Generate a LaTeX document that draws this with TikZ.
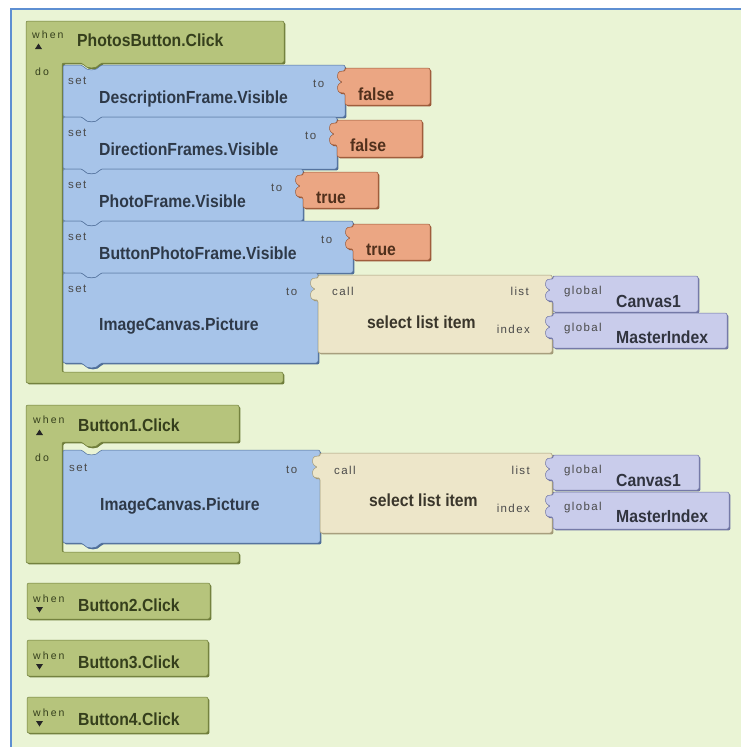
\documentclass[tikz,border=0pt]{standalone}
\usepackage{fontspec}
\setmainfont{Liberation Sans}
\newfontfamily\namefont[FakeStretch=0.9]{Liberation Sans}
\newfontfamily\lblfont[LetterSpace=12]{Liberation Sans}
\newfontfamily\whenfont[LetterSpace=20]{Liberation Sans}
\usetikzlibrary{shadows}

\definecolor{bgc}{HTML}{EAF4D5}
\definecolor{framec}{HTML}{5E8FD2}
\definecolor{evfill}{HTML}{B6C47C}
\definecolor{evedge}{HTML}{6F7D3A}
\definecolor{evtext}{HTML}{353F1C}
\definecolor{setfill}{HTML}{A7C4E9}
\definecolor{setedge}{HTML}{4F6E99}
\definecolor{settext}{HTML}{2E3948}
\definecolor{valfill}{HTML}{EBA683}
\definecolor{valedge}{HTML}{9A5837}
\definecolor{valtext}{HTML}{50301C}
\definecolor{callfill}{HTML}{EDE6C9}
\definecolor{calledge}{HTML}{A39A78}
\definecolor{calltext}{HTML}{3A362B}
\definecolor{glbfill}{HTML}{C9CCEB}
\definecolor{glbedge}{HTML}{6E73A3}
\definecolor{glbtext}{HTML}{31343F}
\definecolor{lbl}{HTML}{4A4A4A}

\tikzset{
  blk/.style 2 args={fill=#1, draw=#2, line width=0.5pt, rounded corners=2pt,
    drop shadow={shadow xshift=1.4pt, shadow yshift=-1.4pt, fill=#2, opacity=1}},
  evblk/.style={blk={evfill}{evedge}},
  setblkstyle/.style={blk={setfill}{setedge}},
  valblkstyle/.style={blk={valfill}{valedge}},
  callblkstyle/.style={blk={callfill}{calledge}},
  glbblkstyle/.style={blk={glbfill}{glbedge}},
  nm/.style={inner sep=0pt, anchor=base west, font=\namefont\bfseries\fontsize{17.5}{18}\selectfont},
  lb/.style={inner sep=0pt, anchor=base west, font=\lblfont\fontsize{11.5}{12}\selectfont, text=lbl},
  lbr/.style={lb, anchor=base east},
  wh/.style={inner sep=0pt, anchor=base west, font=\whenfont\fontsize{10.5}{11}\selectfont, text=evtext},
  tri/.style={fill=black!85},
}

% event block: left, top, right, header bottom, bar top, bar right
\newcommand\evblock[6]{%
  \path[evblk] (#1,#2) -- (#3,#2) -- (#3,#4) -- (100,#4)
    .. controls (97,{#4+6}) and (86,{#4+6}) .. (83,#4) -- (62,#4) -- (62,#5)
    -- (#6,#5) -- (#6,{#5+11}) -- (#1,{#5+11}) -- cycle;}
% statement block: top, right, bottom
\newcommand\setblk[3]{%
  \path[setblkstyle] (63,#1) -- (83,#1) .. controls (86,{#1+6}) and (97,{#1+6}) .. (100,#1)
    -- (#2,#1) -- (#2,#3) -- (100,#3) .. controls (97,{#3+6}) and (86,{#3+6}) .. (83,#3)
    -- (63,#3) -- cycle;}
% value block with plug: style, left, top, right, bottom
\newcommand\valblk[5]{%
  \path[#1] (#2,{#3+3}) -- (#2,#3) -- (#4,#3) -- (#4,#5) -- (#2,#5) -- (#2,{#3+25})
    -- ({#2-3},{#3+25}) .. controls ({#2-8},{#3+24}) and ({#2-8},{#3+18}) .. ({#2-5},{#3+15})
    .. controls ({#2-3.5},{#3+14}) .. ({#2-5},{#3+13})
    .. controls ({#2-8},{#3+10}) and ({#2-8},{#3+4}) .. ({#2-3},{#3+3}) -- cycle;}
% collapsed event block: left, top, right, bottom
\newcommand\collblk[4]{\path[evblk] (#1,#2) rectangle (#3,#4);}

\begin{document}
\begin{tikzpicture}[x=1pt,y=-1pt]
\useasboundingbox (0,0) rectangle (741,747);
\fill[white] (0,0) rectangle (741,747);
\fill[bgc] (10,8) rectangle (741,747);
\draw[framec, line width=2pt] (10.5,747) -- (10.5,8.5) -- (741,8.5);

% ---- when PhotosButton.Click ----
\evblock{26}{21}{284}{63}{372}{283}
\node[wh] (w1) at (32,38) {when};
\fill[tri] (35,49) -- (42,49) -- (38.5,43.5) -- cycle;
\node[nm, text=evtext] (e1) at (77,46) {PhotosButton.Click};
\node[wh] (d1) at (35,75) {do};

\setblk{65}{345}{117}
\node[lb] (s1) at (68,84) {set};
\node[nm, text=settext] (n1) at (99,103) {DescriptionFrame.Visible};
\node[lb] (t1) at (313,87) {to};
\valblk{valblkstyle}{345}{68}{430}{105}
\node[nm, text=valtext] (v1) at (358,100) {false};

\setblk{117}{337}{169}
\node[lb] (s2) at (68,136) {set};
\node[nm, text=settext] (n2) at (99,155) {DirectionFrames.Visible};
\node[lb] (t2) at (305,139) {to};
\valblk{valblkstyle}{337}{120}{422}{157}
\node[nm, text=valtext] (v2) at (350,151) {false};

\setblk{169}{303}{221}
\node[lb] (s3) at (68,188) {set};
\node[nm, text=settext] (n3) at (99,207) {PhotoFrame.Visible};
\node[lb] (t3) at (271,191) {to};
\valblk{valblkstyle}{303}{172}{378}{208}
\node[nm, text=valtext] (v3) at (316,203) {true};

\setblk{221}{353}{273}
\node[lb] (s4) at (68,240) {set};
\node[nm, text=settext] (n4) at (99,259) {ButtonPhotoFrame.Visible};
\node[lb] (t4) at (321,243) {to};
\valblk{valblkstyle}{353}{224}{430}{260}
\node[nm, text=valtext] (v4) at (366,255) {true};

\setblk{273}{318}{363}
\node[lb] (s5) at (68,292) {set};
\node[nm, text=settext] (n5) at (99,330) {ImageCanvas.Picture};
\node[lb] (t5) at (286,295) {to};
\valblk{callblkstyle}{318}{275}{552}{353}
\node[lb] (c1) at (332,295) {call};
\node[nm, text=calltext] (sl1) at (367,328) {select list item};
\node[lbr] (l1) at (529,295) {list};
\node[lbr] (i1) at (530,333) {index};
\valblk{glbblkstyle}{553}{276}{698}{312}
\node[lb] (g1) at (564,294) {global};
\node[nm, text=glbtext] (cv1) at (616,307) {Canvas1};
\valblk{glbblkstyle}{553}{313}{727}{348}
\node[lb] (g2) at (564,331) {global};
\node[nm, text=glbtext] (mi1) at (616,343) {MasterIndex};

% ---- when Button1.Click ----
\evblock{26}{405}{239}{442}{552}{239}
\node[wh] (w2) at (33,423) {when};
\fill[tri] (36,435) -- (43,435) -- (39.5,429.5) -- cycle;
\node[nm, text=evtext] (e2) at (78,431) {Button1.Click};
\node[wh] (d2) at (35,461) {do};

\setblk{450}{320}{543}
\node[lb] (s6) at (69,471) {set};
\node[nm, text=settext] (n6) at (100,510) {ImageCanvas.Picture};
\node[lb] (t6) at (286,473) {to};
\valblk{callblkstyle}{320}{453}{552}{533}
\node[lb] (c2) at (334,474) {call};
\node[nm, text=calltext] (sl2) at (369,506) {select list item};
\node[lbr] (l2) at (530,474) {list};
\node[lbr] (i2) at (530,512) {index};
\valblk{glbblkstyle}{553}{455}{699}{490}
\node[lb] (g3) at (564,473) {global};
\node[nm, text=glbtext] (cv2) at (616,486) {Canvas1};
\valblk{glbblkstyle}{553}{492}{729}{529}
\node[lb] (g4) at (564,510) {global};
\node[nm, text=glbtext] (mi2) at (616,522) {MasterIndex};

% ---- collapsed handlers ----
\collblk{27}{583}{210}{619}
\node[wh] (w3) at (33,602) {when};
\fill[tri] (36,607) -- (43,607) -- (39.5,612.5) -- cycle;
\node[nm, text=evtext] (e3) at (78,611) {Button2.Click};

\collblk{27}{640}{208}{676}
\node[wh] (w4) at (33,659) {when};
\fill[tri] (36,664) -- (43,664) -- (39.5,669.5) -- cycle;
\node[nm, text=evtext] (e4) at (78,668) {Button3.Click};

\collblk{27}{697}{208}{733}
\node[wh] (w5) at (33,716) {when};
\fill[tri] (36,721) -- (43,721) -- (39.5,726.5) -- cycle;
\node[nm, text=evtext] (e5) at (78,725) {Button4.Click};
\end{tikzpicture}
\end{document}
